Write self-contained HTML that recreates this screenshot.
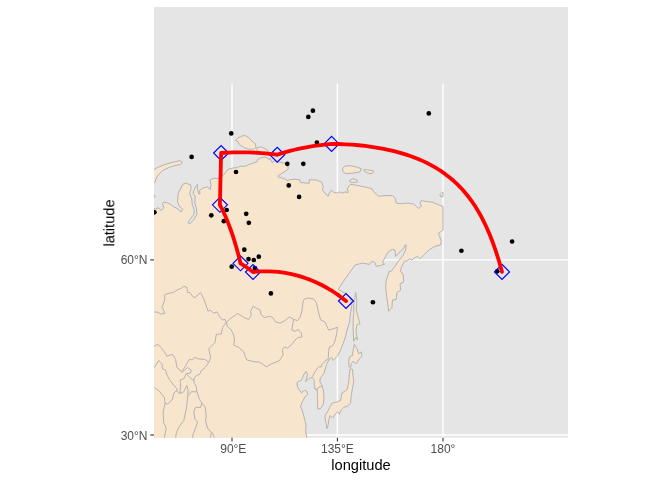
<!DOCTYPE html>
<html><head><meta charset="utf-8"><style>
html,body{margin:0;padding:0;background:#fff;width:672px;height:480px;overflow:hidden}
svg{display:block}
text{will-change:transform}
</style></head><body>
<svg width="672" height="480" viewBox="0 0 672 480">
<defs><clipPath id="clip"><rect x="154" y="7" width="414" height="430.7"/></clipPath></defs>
<rect x="154" y="7" width="414" height="430.7" fill="#E5E5E5"/>
<g clip-path="url(#clip)">
<g stroke="#FFFFFF" stroke-width="1.4" fill="none">
<line x1="232" y1="83.5" x2="232" y2="437.7"/>
<line x1="337.4" y1="83.5" x2="337.4" y2="437.7"/>
<line x1="443" y1="83.5" x2="443" y2="437.7"/>
<line x1="154" y1="259.9" x2="568" y2="259.9"/>
<line x1="154" y1="435" x2="568" y2="435"/>
</g>
<g fill="#F7E5CE" stroke="#B0B0B0" stroke-width="0.95" stroke-linejoin="round">
<path d="M150.00,208.50 L154.00,208.50 L155.80,209.20 L158.00,207.70 L159.50,208.50 L161.30,210.70 L163.90,207.70 L162.40,203.40 L163.90,202.30 L166.80,202.60 L171.20,204.80 L174.80,207.70 L175.00,207.20 L179.00,210.00 L181.25,211.90 L182.80,209.25 L179.20,206.10 L177.60,202.00 L178.10,193.60 L182.80,184.25 L185.40,183.20 L190.60,184.80 L191.10,188.40 L189.60,193.60 L191.70,198.80 L192.20,204.00 L194.30,210.30 L193.75,214.50 L190.60,218.60 L188.00,222.80 L190.10,223.80 L193.75,219.70 L196.90,214.50 L196.40,208.20 L194.80,203.00 L195.30,196.75 L193.20,193.60 L193.75,190.50 L196.40,185.30 L197.40,184.25 L197.40,188.40 L198.40,193.60 L200.00,194.10 L199.50,190.50 L203.10,187.90 L207.30,186.90 L210.40,189.50 L210.90,184.25 L209.90,180.10 L213.00,178.50 L215.00,178.10 L218.10,178.75 L222.00,176.00 L225.00,173.50 L227.50,169.50 L232.50,168.10 L237.50,167.50 L240.00,166.25 L245.00,166.25 L248.10,165.00 L251.25,163.75 L255.00,162.50 L257.50,161.25 L257.50,159.40 L261.25,157.75 L265.00,156.90 L266.90,158.10 L269.40,159.40 L270.00,158.10 L272.20,162.40 L274.50,161.00 L279.00,162.00 L284.10,163.20 L287.90,165.40 L288.20,169.10 L284.90,171.40 L278.20,175.80 L278.20,177.00 L284.90,178.80 L287.10,180.70 L290.10,179.60 L295.00,179.20 L299.80,179.90 L300.50,182.50 L309.10,183.30 L309.40,179.60 L317.60,180.30 L321.90,182.50 L323.10,186.25 L322.50,190.00 L325.60,193.75 L328.10,196.25 L330.00,191.90 L331.25,190.00 L333.10,191.90 L336.25,193.10 L339.40,191.90 L342.50,193.10 L345.00,191.90 L348.10,192.50 L347.50,188.75 L348.75,186.25 L350.60,184.40 L355.00,185.00 L361.25,186.25 L367.50,187.50 L371.90,188.75 L373.75,191.90 L378.75,196.25 L385.00,195.60 L392.50,195.60 L395.00,198.10 L396.25,203.10 L400.00,203.75 L407.50,203.10 L413.75,204.00 L416.25,206.25 L418.75,208.50 L421.25,206.25 L420.00,202.50 L421.25,200.60 L426.25,201.50 L432.50,202.25 L437.50,204.40 L443.00,206.50 L443.00,230.00 L438.30,233.30 L439.40,235.60 L441.25,241.25 L440.60,245.00 L435.00,246.25 L428.75,250.00 L423.75,255.00 L420.00,258.75 L417.50,256.25 L415.00,257.50 L411.90,260.00 L409.40,258.75 L407.50,260.60 L404.40,261.25 L401.25,267.50 L400.60,271.90 L403.10,273.75 L403.75,281.90 L400.00,283.75 L400.60,290.00 L396.90,292.50 L396.25,299.40 L392.50,300.00 L391.90,307.50 L388.75,311.25 L386.90,297.50 L385.60,287.50 L386.25,280.00 L388.10,275.00 L388.75,271.90 L391.25,271.25 L395.00,266.25 L398.75,260.50 L402.50,256.25 L405.60,250.00 L406.25,245.00 L405.00,245.00 L403.75,248.10 L400.00,251.90 L395.60,256.25 L395.00,250.00 L392.50,249.40 L388.75,251.25 L386.25,255.00 L383.75,260.00 L382.50,261.90 L384.40,264.40 L380.00,265.60 L376.25,266.25 L375.00,262.50 L371.90,261.25 L369.40,264.40 L362.50,263.10 L355.00,265.00 L350.00,272.00 L345.00,279.00 L340.00,286.50 L338.50,289.50 L341.25,291.25 L346.25,293.75 L350.60,298.75 L351.90,305.00 L350.60,312.50 L349.40,322.50 L347.00,330.00 L345.60,336.25 L343.10,343.75 L340.00,351.25 L338.00,355.30 L335.70,357.80 L333.20,360.30 L331.50,357.40 L329.80,358.70 L328.20,361.20 L326.50,364.50 L325.25,369.00 L324.00,373.50 L321.50,376.50 L320.00,379.00 L320.00,382.00 L321.50,384.50 L322.70,388.00 L323.60,392.00 L323.90,398.40 L323.30,404.70 L320.20,408.80 L317.60,408.80 L317.60,400.50 L317.10,396.30 L317.60,394.25 L317.10,390.10 L315.00,389.00 L314.25,384.50 L314.25,380.00 L312.00,377.40 L309.00,378.50 L305.60,381.50 L306.75,377.75 L307.50,374.00 L306.00,371.40 L304.10,374.00 L302.60,377.75 L300.75,381.10 L298.50,381.10 L297.00,383.00 L297.40,386.75 L299.25,389.75 L301.50,392.75 L304.50,390.50 L306.70,391.10 L307.70,394.25 L305.10,396.85 L302.50,401.50 L300.40,406.20 L302.00,409.90 L303.50,415.10 L305.10,421.30 L306.10,425.50 L305.60,431.75 L306.70,435.90 L307.50,442.00 L150.00,442.00Z"/>
<path d="M150.00,169.40 L154.10,169.40 L157.50,167.50 L163.75,165.00 L170.00,163.00 L176.25,161.50 L180.00,160.60 L181.90,161.90 L182.25,163.10 L180.60,164.40 L175.00,165.60 L168.75,167.50 L162.50,170.60 L158.75,174.40 L156.25,178.00 L155.20,182.00 L150.00,183.00Z"/>
<path d="M150.00,195.30 L154.00,195.30 L155.50,196.40 L154.00,197.50 L150.00,197.50Z"/>
<path d="M235.50,140.60 L238.00,138.00 L241.70,136.20 L245.30,135.50 L249.00,138.00 L252.60,141.70 L255.50,143.90 L255.90,147.50 L253.40,149.30 L248.20,149.00 L243.90,147.50 L239.50,144.60 L238.00,141.70Z"/>
<path d="M256.90,147.50 L261.25,146.90 L265.00,148.75 L268.10,150.60 L268.00,154.00 L262.00,153.00 L257.00,151.00Z"/>
<path d="M342.50,168.75 L344.40,166.25 L350.00,165.60 L356.25,166.90 L361.25,168.75 L360.00,171.90 L352.50,173.10 L346.25,173.75 L343.10,171.90Z"/>
<path d="M363.75,169.75 L367.50,169.75 L373.75,171.00 L371.90,173.75 L368.10,173.10 L364.40,171.25Z"/>
<path d="M349.40,180.60 L353.10,178.60 L357.00,180.00 L357.50,181.90 L352.50,182.50 L350.00,181.90Z"/>
<path d="M440.00,194.40 L441.90,192.50 L443.00,192.00 L443.00,196.50 L440.60,196.90Z"/>
<path d="M355.60,292.50 L356.90,300.00 L356.25,310.00 L358.10,317.50 L360.00,323.75 L356.90,324.50 L356.00,330.00 L356.25,333.75 L357.50,340.00 L355.60,337.50 L353.75,341.25 L353.10,330.00 L353.10,321.25 L353.75,312.50 L353.75,303.75 L355.00,297.50Z"/>
<path d="M354.40,344.40 L356.90,348.75 L358.75,353.75 L361.25,351.90 L361.90,356.25 L359.40,358.75 L356.25,363.75 L353.10,361.25 L351.25,363.75 L350.60,367.50 L348.75,366.25 L348.75,360.00 L350.00,356.25 L352.50,355.60 L353.10,350.00Z"/>
<path d="M350.00,368.75 L352.50,369.40 L353.10,377.50 L353.75,381.75 L352.50,388.00 L351.25,395.50 L350.60,403.00 L347.50,406.00 L343.75,407.40 L341.25,409.90 L339.40,414.25 L337.50,411.75 L335.00,414.25 L332.50,418.00 L330.00,415.50 L329.00,419.25 L328.00,425.50 L327.00,428.60 L325.90,422.40 L324.90,417.20 L325.40,415.10 L327.50,411.75 L330.00,406.75 L332.50,403.00 L337.50,401.75 L340.60,400.50 L341.90,393.00 L346.90,390.00 L348.75,382.50 L349.40,373.75Z"/>
</g>
<g fill="none" stroke="#B0B0B0" stroke-width="0.95" stroke-linejoin="round">
<path d="M150.00,311.90 L154.10,311.90 L158.10,312.25 L160.60,314.00 L165.00,313.10 L161.90,306.90 L163.75,303.10 L165.00,298.75 L164.40,295.00 L166.90,293.75 L173.10,292.50 L176.25,290.60 L181.25,288.10 L183.75,286.25 L186.90,287.50 L187.50,292.50 L190.00,292.50 L193.10,296.90 L195.00,297.50 L200.60,292.50 L203.75,298.75 L208.10,311.25 L210.00,310.00 L213.75,313.10 L216.90,311.90 L218.75,315.60 L222.50,320.00 L225.00,319.40 L226.25,322.50"/>
<path d="M226.25,322.50 L230.00,318.75 L233.75,316.25 L237.50,313.50 L241.25,315.60 L243.75,317.50 L248.75,319.40 L251.25,315.00 L250.60,311.25 L253.10,306.25 L256.25,308.10 L260.00,310.00 L261.25,315.00 L264.40,317.50 L270.00,316.25 L273.10,318.10 L275.60,321.90 L280.00,323.10 L285.00,320.60 L289.40,316.90 L293.75,319.40"/>
<path d="M293.75,319.40 L297.50,320.60 L300.00,317.50 L301.90,311.25 L303.10,301.70 L303.90,299.50 L307.50,298.00 L313.30,298.75 L316.25,302.40 L318.40,311.90 L320.60,319.90 L325.00,322.00 L328.60,330.10 L333.75,328.60 L337.40,327.20 L336.70,333.75 L334.50,342.50 L332.30,346.10 L329.40,346.90 L328.60,351.25 L328.40,356.00 L328.20,359.50 L325.70,360.30 L324.00,362.40 L321.90,364.50 L321.50,367.00 L319.00,366.60 L317.30,368.25 L314.80,372.00 L312.75,376.20 L312.00,377.40"/>
<path d="M226.25,322.50 L227.50,326.25 L231.25,330.00 L233.75,335.00 L234.40,340.00 L233.75,345.00 L238.75,347.50 L243.75,351.90 L245.60,357.50 L246.90,360.00 L255.00,361.90 L259.40,361.90 L263.75,365.00 L266.90,366.90 L270.00,364.40 L275.00,362.50 L279.40,360.60 L283.10,355.00 L282.50,349.40 L284.40,346.90 L287.50,348.10 L292.50,343.75 L295.00,340.00 L298.10,337.50 L301.90,337.00 L301.25,333.00 L298.10,329.40 L295.00,331.25 L291.90,330.00 L292.50,325.00 L293.75,319.40"/>
<path d="M226.25,322.50 L224.40,325.00 L222.50,327.50 L221.25,334.00 L216.25,334.40 L215.00,342.50 L208.75,348.75 L210.60,357.50 L208.75,362.50"/>
<path d="M208.75,362.50 L205.00,359.40 L198.75,359.00 L194.40,357.25 L192.50,360.00 L189.40,359.40 L187.50,362.50 L185.00,366.90 L181.90,371.25"/>
<path d="M208.75,362.50 L205.00,367.50 L201.25,370.60 L200.00,373.75 L195.60,376.25 L193.75,379.40 L194.40,383.75 L196.25,386.25 L196.90,391.75 L199.40,399.25 L201.90,403.00 L205.00,406.75 L206.25,415.50 L205.60,421.00 L207.50,428.00 L211.25,432.40 L210.00,442.00"/>
<path d="M211.25,432.40 L212.50,433.00 L216.25,442.00"/>
<path d="M150.00,346.25 L154.10,346.25 L158.10,344.40 L161.90,348.75 L165.60,353.75 L166.90,356.25 L172.50,354.40 L175.60,359.40 L176.90,367.50 L180.00,370.00 L181.90,372.50"/>
<path d="M150.00,367.50 L154.10,367.50 L158.75,360.60 L161.90,363.75 L162.50,368.75 L165.60,370.00 L166.90,375.00 L169.40,379.40 L173.10,384.40 L176.90,388.75 L176.90,390.50 L173.75,393.00 L172.50,399.25 L167.50,404.25 L165.00,403.00"/>
<path d="M150.00,387.40 L154.10,387.40 L159.40,391.10 L164.40,397.40 L165.00,403.00 L163.10,413.00 L163.75,423.00 L166.25,428.00 L165.00,434.25 L163.75,442.00"/>
<path d="M176.25,390.50 L180.00,393.60 L183.75,391.75 L186.90,385.50 L188.10,390.50 L187.50,399.25 L186.25,409.25 L183.75,420.50 L178.75,427.40 L176.25,433.00 L175.00,442.00"/>
<path d="M181.90,372.50 L187.50,367.50 L191.25,370.00 L190.60,373.10 L186.25,373.75 L183.75,378.75 L180.00,380.00 L180.60,383.75 L180.00,393.60"/>
<path d="M186.25,373.75 L192.50,380.00 L194.40,379.40"/>
<path d="M196.90,391.75 L191.25,391.75 L188.75,395.50"/>
<path d="M314.80,388.70 L317.30,389.50 L319.00,387.00 L321.90,386.20 L322.70,386.50"/>
<path d="M201.90,403.00 L200.60,407.40 L195.60,407.40 L193.75,411.75 L195.00,419.25 L197.50,421.75 L195.60,428.00 L193.10,434.25 L191.90,442.00"/>
</g>
<g fill="#000">
<circle cx="231.25" cy="133.4" r="2.35"/>
<circle cx="191.6" cy="156.9" r="2.35"/>
<circle cx="236.0" cy="172.0" r="2.35"/>
<circle cx="287.3" cy="163.8" r="2.35"/>
<circle cx="303.3" cy="163.8" r="2.35"/>
<circle cx="288.75" cy="185.4" r="2.35"/>
<circle cx="299.1" cy="196.9" r="2.35"/>
<circle cx="316.9" cy="142.5" r="2.35"/>
<circle cx="154.4" cy="212.3" r="2.35"/>
<circle cx="211.3" cy="215.3" r="2.35"/>
<circle cx="226.7" cy="210.0" r="2.35"/>
<circle cx="223.8" cy="221.2" r="2.35"/>
<circle cx="246.2" cy="213.8" r="2.35"/>
<circle cx="248.8" cy="222.8" r="2.35"/>
<circle cx="244.3" cy="249.7" r="2.35"/>
<circle cx="248.5" cy="259.1" r="2.35"/>
<circle cx="253.8" cy="260.0" r="2.35"/>
<circle cx="258.8" cy="256.7" r="2.35"/>
<circle cx="231.7" cy="266.7" r="2.35"/>
<circle cx="254.9" cy="268.1" r="2.35"/>
<circle cx="270.9" cy="293.4" r="2.35"/>
<circle cx="372.9" cy="302.25" r="2.35"/>
<circle cx="461.4" cy="250.75" r="2.35"/>
<circle cx="512.1" cy="241.5" r="2.35"/>
<circle cx="497.2" cy="271.3" r="2.35"/>
<circle cx="428.8" cy="113.4" r="2.35"/>
<circle cx="312.9" cy="110.7" r="2.35"/>
<circle cx="308.3" cy="116.9" r="2.35"/>
</g>
<g fill="none" stroke="#0000FF" stroke-width="1.15">
<path d="M213.60,153.00 L221.10,145.50 L228.60,153.00 L221.10,160.50Z"/>
<path d="M269.75,154.75 L277.25,147.25 L284.75,154.75 L277.25,162.25Z"/>
<path d="M324.10,143.90 L331.60,136.40 L339.10,143.90 L331.60,151.40Z"/>
<path d="M212.40,204.80 L219.90,197.30 L227.40,204.80 L219.90,212.30Z"/>
<path d="M233.00,263.30 L240.50,255.80 L248.00,263.30 L240.50,270.80Z"/>
<path d="M245.50,272.00 L253.00,264.50 L260.50,272.00 L253.00,279.50Z"/>
<path d="M338.50,301.00 L346.00,293.50 L353.50,301.00 L346.00,308.50Z"/>
<path d="M494.50,271.90 L502.00,264.40 L509.50,271.90 L502.00,279.40Z"/>
</g>
<path d="M502.00,271.90 L501.23,269.06 L500.45,266.23 L499.64,263.40 L498.81,260.57 L497.95,257.75 L497.06,254.94 L496.15,252.14 L495.22,249.34 L494.25,246.54 L493.25,243.76 L492.22,240.98 L491.15,238.21 L490.05,235.45 L488.91,232.70 L487.72,229.96 L486.50,227.23 L485.23,224.51 L483.91,221.80 L482.55,219.10 L481.13,216.42 L479.65,213.75 L478.12,211.10 L476.53,208.46 L474.86,205.83 L473.13,203.23 L471.32,200.64 L469.44,198.07 L467.47,195.53 L465.41,193.01 L463.26,190.51 L461.01,188.04 L458.65,185.60 L456.18,183.19 L453.59,180.81 L450.87,178.46 L448.02,176.16 L445.03,173.90 L441.88,171.68 L438.58,169.50 L435.11,167.38 L431.46,165.32 L427.62,163.32 L423.59,161.38 L419.36,159.51 L414.93,157.71 L410.27,156.00 L405.40,154.37 L400.30,152.84 L394.98,151.40 L389.44,150.08 L383.68,148.86 L377.71,147.77 L371.54,146.79 L365.19,145.96 L358.69,145.25 L352.05,144.69 L345.30,144.28 L338.47,144.01 L331.60,143.90 L327.16,144.31 L322.79,144.79 L318.49,145.32 L314.27,145.92 L310.14,146.57 L306.09,147.29 L302.14,148.05 L298.28,148.87 L294.52,149.73 L290.87,150.65 L287.31,151.61 L283.85,152.61 L280.50,153.66 L277.25,154.75 L273.42,154.24 L269.54,153.79 L265.60,153.40 L261.63,153.07 L257.63,152.79 L253.59,152.57 L249.53,152.41 L245.46,152.32 L241.38,152.28 L237.29,152.30 L233.22,152.39 L229.16,152.53 L225.11,152.74 L221.10,153.00 L219.90,204.80 L221.97,208.86 L223.91,212.95 L225.74,217.06 L227.46,221.18 L229.09,225.33 L230.63,229.50 L232.09,233.68 L233.48,237.88 L234.79,242.09 L236.04,246.31 L237.23,250.54 L238.37,254.78 L239.46,259.04 L240.50,263.30 L244.79,266.06 L248.95,268.96 L253.00,272.00 L257.17,271.63 L261.35,271.41 L265.54,271.33 L269.72,271.39 L273.91,271.61 L278.08,271.96 L282.23,272.47 L286.36,273.11 L290.46,273.90 L294.53,274.83 L298.56,275.89 L302.55,277.09 L306.49,278.43 L310.39,279.89 L314.23,281.48 L318.01,283.20 L321.73,285.04 L325.40,286.99 L328.99,289.06 L332.53,291.24 L336.00,293.53 L339.40,295.92 L342.73,298.41 L346.00,301.00" fill="none" stroke="#FF0000" stroke-width="3.8" stroke-linecap="round" stroke-linejoin="round"/>
</g>
<g stroke="#333333" stroke-width="1.1">
<line x1="150.3" y1="259.9" x2="154" y2="259.9"/>
<line x1="150.3" y1="435" x2="154" y2="435"/>
<line x1="232" y1="437.7" x2="232" y2="441.4"/>
<line x1="337.4" y1="437.7" x2="337.4" y2="441.4"/>
<line x1="443" y1="437.7" x2="443" y2="441.4"/>
</g>
<g font-family="Liberation Sans, sans-serif" font-size="12" fill="#4D4D4D">
<text x="147.5" y="263.8" text-anchor="end">60°N</text>
<text x="147.5" y="439.6" text-anchor="end">30°N</text>
<text x="233.3" y="452.9" text-anchor="middle">90°E</text>
<text x="337.4" y="452.9" text-anchor="middle">135°E</text>
<text x="443" y="452.9" text-anchor="middle">180°</text>
</g>
<g font-family="Liberation Sans, sans-serif" font-size="14.67" fill="#000000">
<text x="361" y="469.6" text-anchor="middle">longitude</text>
<text transform="translate(114.3,223) rotate(-90)" text-anchor="middle">latitude</text>
</g>
</svg>
</body></html>
